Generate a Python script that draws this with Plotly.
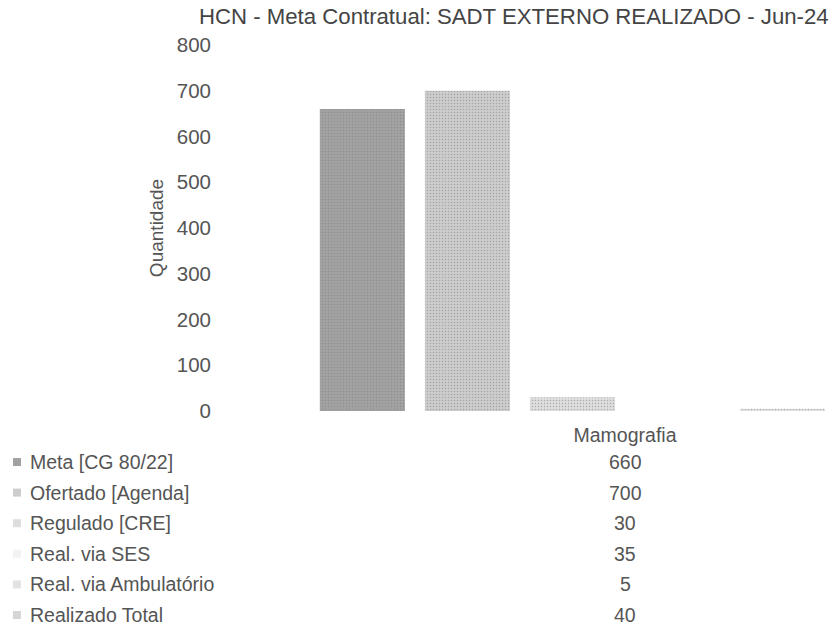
import plotly.graph_objects as go

title = "HCN - Meta Contratual: SADT EXTERNO REALIZADO - Jun-24"
categories = ["Mamografia"]
series_names = ["Meta [CG 80/22]", "Ofertado [Agenda]", "Regulado [CRE]",
                "Real. via SES", "Real. via Ambulatório", "Realizado Total"]
series_values = [[660], [700], [30], [35], [5], [40]]
series_colors = ["#a2a2a2", "#cdcdcd", "#dedede", "#ffffff", "#e2e2e2", "#d6d6d6"]
y_ticks = [0, 100, 200, 300, 400, 500, 600, 700, 800]

W, H = 836, 626
plot_left, plot_right, plot_top, plot_bottom = 222, 836, 45, 411
L, R, T, B = plot_left, W - plot_right, plot_top, H - plot_bottom
plot_w = plot_right - plot_left
plot_h = plot_bottom - plot_top
cat_px = 806  # pixels per category unit
font = "Liberation Sans, Arial, sans-serif"
txt = "#555555"

fig = go.Figure()
for name, vals, col in zip(series_names, series_values, series_colors):
    fig.add_trace(go.Bar(name=name, x=categories, y=vals,
                         marker=dict(color=col, line=dict(width=0),
                                     pattern=dict(shape=".", fgcolor="#7a7a7a" if col != "#ffffff" else "#ffffff",
                                                  size=3, solidity=0.2)),
                         showlegend=False))

def py(pix):   # page y pixel -> paper
    return (plot_bottom - pix) / plot_h

def px(pix):   # page x pixel -> paper
    return (pix - plot_left) / plot_w

ann = []
shapes = []
row0, step = 462, 30.6
for i, (name, vals, col) in enumerate(zip(series_names, series_values, series_colors)):
    yc = row0 + i * step
    ann.append(dict(text=name, x=px(28), y=py(yc), xref="paper", yref="paper",
                    xanchor="left", yanchor="middle", showarrow=False,
                    font=dict(family=font, size=19.5, color=txt)))
    ann.append(dict(text=str(vals[0]), x=0, y=py(yc), xref="x", yref="paper",
                    xanchor="center", yanchor="middle", showarrow=False,
                    font=dict(family=font, size=19.5, color=txt)))
    shapes.append(dict(type="rect", xref="paper", yref="paper",
                       x0=px(13), x1=px(21), y0=py(yc + 4), y1=py(yc - 4),
                       fillcolor=col if col != "#ffffff" else "#f2f2f2", line=dict(width=0)))

# title as right-aligned annotation
ann.append(dict(text=title, x=px(831), y=py(16), xref="paper", yref="paper",
                xanchor="right", yanchor="middle", showarrow=False,
                font=dict(family=font, size=22.2, color="#444444")))

fig.update_layout(
    width=W, height=H,
    margin=dict(l=L, r=R, t=T, b=B),
    paper_bgcolor="white", plot_bgcolor="white",
    barmode="group", bargap=0.218, bargroupgap=0.19,
    xaxis=dict(type="category", range=[-0.5, -0.5 + plot_w / cat_px],
               showgrid=False, zeroline=False, showline=False, ticks="",
               tickfont=dict(family=font, size=19.5, color=txt), ticklabelstandoff=10),
    yaxis=dict(range=[0, 800], tickvals=y_ticks, showgrid=False, zeroline=False,
               showline=False, ticks="", ticklabelstandoff=10,
               tickfont=dict(family=font, size=20.5, color=txt),
               title=dict(text="Quantidade", font=dict(family=font, size=19, color=txt), standoff=8)),
    annotations=ann, shapes=shapes,
)

fig.write_html("out.html", config={"displayModeBar": False},
               post_script="document.body.style.margin='0';document.body.style.overflow='hidden';")
